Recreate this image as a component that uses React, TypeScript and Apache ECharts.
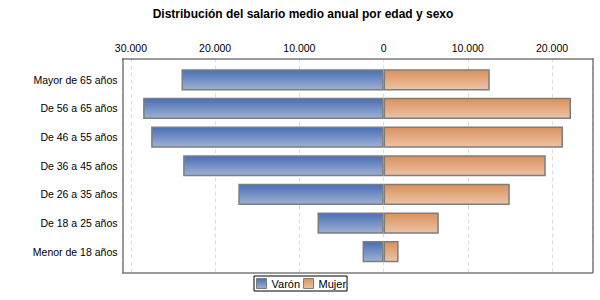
import React, { useEffect, useRef } from "react";
import * as echarts from "echarts";

const categories = [
  "Mayor de 65 años",
  "De 56 a 65 años",
  "De 46 a 55 años",
  "De 36 a 45 años",
  "De 26 a 35 años",
  "De 18 a 25 años",
  "Menor de 18 años",
];
const varon = [24000, 28550, 27600, 23800, 17250, 7850, 2500];
const mujer = [12600, 22250, 21300, 19250, 14980, 6550, 1780];
const seriesNames = ["Varón", "Mujer"];
const titleText = "Distribución del salario medio anual por edad y sexo";
const xMin = -31000;
const xMax = 24800;

const FONT = "'Liberation Sans', Arial, sans-serif";

function fmt(v: number): string {
  if (Math.abs(v) % 10000 !== 0) return "";
  const a = Math.abs(v);
  return a.toString().replace(/\B(?=(\d{3})+(?!\d))/g, ".");
}

export default function App() {
  const ref = useRef<HTMLDivElement>(null);
  useEffect(() => {
    document.body.style.margin = "0";
    if (!ref.current) return;
    const chart = echarts.init(ref.current, null, { renderer: "svg" });
    const blue = new echarts.graphic.LinearGradient(0, 0, 0, 1, [
      { offset: 0, color: "#4a6fb4" },
      { offset: 1, color: "#9db1d6" },
    ]);
    const orange = new echarts.graphic.LinearGradient(0, 0, 0, 1, [
      { offset: 0, color: "#d8925e" },
      { offset: 1, color: "#eec2a4" },
    ]);
    const boxLine = { show: true, onZero: false, lineStyle: { color: "#7a7a7a", width: 1.5 } };
    chart.setOption({
      animation: false,
      backgroundColor: "#ffffff",
      textStyle: { fontFamily: FONT },
      title: {
        text: titleText,
        left: 298,
        textAlign: "center",
        top: 3,
        textStyle: { fontSize: 12, fontWeight: "bold", color: "#000", fontFamily: FONT },
      },
      legend: {
        data: seriesNames,
        left: 254,
        top: 276,
        orient: "horizontal",
        icon: "rect",
        borderColor: "#000",
        borderWidth: 1,
        padding: [2, 1, 2, 2],
        itemGap: 3,
        itemWidth: 10,
        itemHeight: 10,
        itemStyle: { borderColor: "#7d7d7d", borderWidth: 1 },
        textStyle: { fontSize: 11, color: "#000", fontFamily: FONT },
      },
      grid: [
        { left: 122.5, top: 58.5, width: 470, height: 214 },
        { left: 122.5, top: 65.5, width: 470, height: 200.5 },
      ],
      xAxis: [
        {
          type: "value",
          gridIndex: 0,
          position: "top",
          min: xMin,
          max: xMax,
          splitNumber: 6,
          axisLine: boxLine,
          axisTick: { show: false },
          axisLabel: {
            formatter: fmt,
            fontSize: 10.5,
            color: "#000",
            margin: 5,
            fontFamily: FONT,
          },
          splitLine: { show: true, lineStyle: { color: "#dcdcdc", type: [4, 3], width: 1 } },
        },
        { type: "value", gridIndex: 1, min: xMin, max: xMax, show: false },
        {
          type: "value",
          gridIndex: 0,
          position: "bottom",
          min: xMin,
          max: xMax,
          axisLine: boxLine,
          axisTick: { show: false },
          axisLabel: { show: false },
          splitLine: { show: false },
        },
      ],
      yAxis: [
        {
          type: "category",
          gridIndex: 0,
          position: "left",
          data: ["a"],
          axisLine: boxLine,
          axisTick: { show: false },
          axisLabel: { show: false },
          splitLine: { show: false },
        },
        {
          type: "category",
          gridIndex: 1,
          data: categories,
          inverse: true,
          axisLine: { show: false },
          axisTick: { show: false },
          splitLine: { show: false },
          axisLabel: { fontSize: 10.5, color: "#000", margin: 5, fontFamily: FONT },
        },
        {
          type: "category",
          gridIndex: 0,
          position: "right",
          data: ["a"],
          axisLine: boxLine,
          axisTick: { show: false },
          axisLabel: { show: false },
          splitLine: { show: false },
        },
      ],
      series: [
        {
          name: seriesNames[0],
          type: "bar",
          xAxisIndex: 1,
          yAxisIndex: 1,
          stack: "t",
          barWidth: "74%",
          data: varon.map((v) => -v),
          itemStyle: { color: blue, borderColor: "#7d7d7d", borderWidth: 1.5 },
        },
        {
          name: seriesNames[1],
          type: "bar",
          xAxisIndex: 1,
          yAxisIndex: 1,
          stack: "t",
          barWidth: "74%",
          data: mujer,
          itemStyle: { color: orange, borderColor: "#7d7d7d", borderWidth: 1.5 },
        },
      ],
    });
    return () => chart.dispose();
  }, []);
  return <div ref={ref} style={{ width: 600, height: 300 }} />;
}
